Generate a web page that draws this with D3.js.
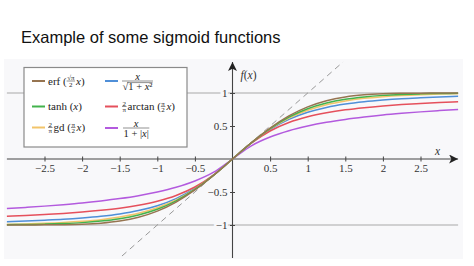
<!DOCTYPE html>
<html><head><meta charset="utf-8">
<script src="https://cdn.jsdelivr.net/npm/d3@7"></script>
<style>body{margin:0;background:#fff}svg{display:block}</style>
</head><body>
<script>
// ---- data ----
const xs = [-3,-2.75,-2.5,-2.25,-2,-1.75,-1.5,-1.25,-1,-0.75,-0.5,-0.25,0,0.25,0.5,0.75,1,1.25,1.5,1.75,2,2.25,2.5,2.75,3];
const erfVals  = [-1.000,-0.999,-0.998,-0.995,-0.988,-0.972,-0.940,-0.883,-0.790,-0.653,-0.469,-0.246,0,0.246,0.469,0.653,0.790,0.883,0.940,0.972,0.988,0.995,0.998,0.999,1.000];
const tanhVals = [-0.995,-0.992,-0.987,-0.978,-0.964,-0.941,-0.905,-0.848,-0.762,-0.635,-0.462,-0.245,0,0.245,0.462,0.635,0.762,0.848,0.905,0.941,0.964,0.978,0.987,0.992,0.995];
const gdVals   = [-0.989,-0.983,-0.975,-0.963,-0.945,-0.919,-0.880,-0.823,-0.739,-0.620,-0.456,-0.244,0,0.244,0.456,0.620,0.739,0.823,0.880,0.919,0.945,0.963,0.975,0.983,0.989];
const algVals  = [-0.949,-0.940,-0.928,-0.914,-0.894,-0.868,-0.832,-0.781,-0.707,-0.600,-0.447,-0.243,0,0.243,0.447,0.600,0.707,0.781,0.832,0.868,0.894,0.914,0.928,0.940,0.949];
const atanVals = [-0.867,-0.855,-0.841,-0.825,-0.804,-0.778,-0.745,-0.700,-0.639,-0.552,-0.424,-0.239,0,0.239,0.424,0.552,0.639,0.700,0.745,0.778,0.804,0.825,0.841,0.855,0.867];
const absVals  = [-0.750,-0.733,-0.714,-0.692,-0.667,-0.636,-0.600,-0.556,-0.500,-0.429,-0.333,-0.200,0,0.200,0.333,0.429,0.500,0.556,0.600,0.636,0.667,0.692,0.714,0.733,0.750];
const diagX = [-1.47, 1.47];
const xTicks = [-2.5,-2,-1.5,-1,-0.5,0.5,1,1.5,2,2.5];
const yTicks = [-1,-0.5,0.5,1];
const refLines = [-1, 1];
const title = "Example of some sigmoid functions";

const seriesList = [
  {name:"alg",  vals: algVals,  color:"#4f8fd8"},
  {name:"atan", vals: atanVals, color:"#e5505c"},
  {name:"abs",  vals: absVals,  color:"#b35ade"},
  {name:"gd",   vals: gdVals,   color:"#f2c46a"},
  {name:"tanh", vals: tanhVals, color:"#43b34c"},
  {name:"erf",  vals: erfVals,  color:"#967450"}
];
const colorOf = Object.fromEntries(seriesList.map(s => [s.name, s.color]));

// ---- layout ----
const W = 474, H = 266;
const svg = d3.select("body").append("svg").attr("width", W).attr("height", H);
const x = d3.scaleLinear().domain([-3, 3]).range([6.9, 458.1]);
const y = d3.scaleLinear().domain([-1.5, 1.5]).range([258, 60]);
const bg = "#f8f8fa";
const serif = "'Liberation Serif','DejaVu Serif',serif";

svg.append("rect").attr("x", 4).attr("y", 59).attr("width", 459).attr("height", 200).attr("fill", bg);

svg.append("text").attr("x", 21).attr("y", 43)
  .attr("font-family", "'Liberation Sans',Arial,sans-serif").attr("font-size", 16.5)
  .attr("fill", "#111").text(title);

// reference lines y = ±1
svg.selectAll("line.ref").data(refLines).join("line").attr("class", "ref")
  .attr("x1", x(-3)).attr("x2", x(3)).attr("y1", d => y(d)).attr("y2", d => y(d))
  .attr("stroke", "#a8a8a8").attr("stroke-width", 1);

// dashed diagonal y = x
svg.append("line")
  .attr("x1", x(diagX[0])).attr("y1", y(diagX[0]))
  .attr("x2", x(diagX[1])).attr("y2", y(diagX[1]))
  .attr("stroke", "#999").attr("stroke-width", 1).attr("stroke-dasharray", "6,4.5");

// arrow marker
const defs = svg.append("defs");
defs.append("marker").attr("id", "arr").attr("viewBox", "0 0 10 10")
  .attr("refX", 10).attr("refY", 5).attr("markerWidth", 9).attr("markerHeight", 9)
  .attr("markerUnits", "userSpaceOnUse").attr("orient", "auto")
  .append("path").attr("d", "M0,0 L10,5 L0,10 L2.5,5 Z").attr("fill", "#222");

// axes lines
svg.append("line").attr("x1", x(-3)).attr("x2", x(3)).attr("y1", y(0)).attr("y2", y(0))
  .attr("stroke", "#444").attr("stroke-width", 1.1).attr("marker-end", "url(#arr)");
svg.append("line").attr("x1", x(0)).attr("x2", x(0)).attr("y1", y(-1.5)).attr("y2", y(1.47))
  .attr("stroke", "#444").attr("stroke-width", 1.1).attr("marker-end", "url(#arr)");

const fmt = d3.format("");
// x axis ticks/labels
const xa = svg.append("g").attr("transform", `translate(0,${y(0)})`)
  .call(d3.axisBottom(x).tickValues(xTicks).tickFormat(fmt).tickSizeInner(2.5).tickSizeOuter(0));
xa.select(".domain").remove();
xa.selectAll(".tick line").attr("y1", -2.5).attr("y2", 2.5).attr("stroke", "#444");
xa.selectAll(".tick text").attr("y", 9).attr("dy", "0.35em")
  .attr("font-family", serif).attr("font-size", 11).attr("fill", "#333");

// y axis ticks/labels
const ya = svg.append("g").attr("transform", `translate(${x(0)},0)`)
  .call(d3.axisLeft(y).tickValues(yTicks).tickFormat(fmt).tickSizeInner(2.5).tickSizeOuter(0));
ya.select(".domain").remove();
ya.selectAll(".tick line").attr("x1", -2.5).attr("x2", 2.5).attr("stroke", "#444");
ya.selectAll(".tick text").attr("x", -5).attr("dy", "0.35em")
  .attr("font-family", serif).attr("font-size", 11).attr("fill", "#333")
  .attr("stroke", bg).attr("stroke-width", 5).attr("paint-order", "stroke");

// axis names
svg.append("text").attr("x", x(0) + 8).attr("y", 79).attr("font-family", serif)
  .attr("font-size", 11.5).attr("fill", "#333")
  .html('<tspan font-style="italic">f</tspan>(<tspan font-style="italic">x</tspan>)');
svg.append("text").attr("x", 435).attr("y", 155).attr("font-family", serif)
  .attr("font-size", 11.5).attr("font-style", "italic").attr("fill", "#333").text("x");

// curves
const line = d3.line().x((d, i) => x(xs[i])).y(d => y(d)).curve(d3.curveMonotoneX);
svg.selectAll("path.s").data(seriesList).join("path").attr("class", "s")
  .attr("d", d => line(d.vals)).attr("fill", "none")
  .attr("stroke", d => d.color).attr("stroke-width", 1.5);

// legend
const lg = svg.append("g");
lg.append("rect").attr("x", 24).attr("y", 67.5).attr("width", 163).attr("height", 79.5)
  .attr("fill", "#fff").attr("stroke", "#8a8a8a").attr("stroke-width", 1.2);

function mathRow(x0, yb, parts) {
  let cx = x0;
  for (const p of parts) {
    if (p.frac) {
      const fs = p.size || 7;
      const gap = p.gap || 0;
      const nt = lg.append("text").attr("font-family", serif).attr("font-size", fs).attr("fill", "#222")
        .attr("text-anchor", "middle").html(p.frac[0]);
      const dt = lg.append("text").attr("font-family", serif).attr("font-size", fs).attr("fill", "#222")
        .attr("text-anchor", "middle").html(p.frac[1]);
      const w = Math.max(nt.node().getComputedTextLength(), dt.node().getComputedTextLength()) + 1;
      const mid = cx + w / 2;
      const barY = yb - (p.bar || 3.5);
      nt.attr("x", mid).attr("y", barY - 1 - gap);
      dt.attr("x", mid).attr("y", barY + fs * 0.72 + 0.8 + gap);
      lg.append("line").attr("x1", cx).attr("x2", cx + w).attr("y1", barY).attr("y2", barY)
        .attr("stroke", "#222").attr("stroke-width", 0.5);
      if (p.sqrt) {
        const dw = dt.node().getComputedTextLength();
        const sx = mid - dw / 2 + p.sqrt * dw;
        lg.append("line").attr("x1", sx).attr("x2", mid + dw / 2).attr("y1", barY + 1.6).attr("y2", barY + 1.6)
          .attr("stroke", "#222").attr("stroke-width", 0.5);
      }
      cx += w + (p.pad || 1);
    } else {
      const t = lg.append("text").attr("x", cx).attr("y", yb).attr("font-family", serif)
        .attr("font-size", p.size || 11).attr("fill", "#222").html(p.t);
      cx += t.node().getComputedTextLength();
    }
  }
}
function marker(xm, ym, name) {
  lg.append("line").attr("x1", xm).attr("x2", xm + 13).attr("y1", ym).attr("y2", ym)
    .attr("stroke", colorOf[name]).attr("stroke-width", 2);
}
const I = s => `<tspan font-style="italic">${s}</tspan>`;
// column 1
marker(32, 81, "erf");
mathRow(48, 84.5, [{t: "erf ("}, {frac: ["√π", "2"], size: 7}, {t: " " + I("x") + ")"}]);
marker(32, 106.5, "tanh");
mathRow(48, 110, [{t: "tanh (" + I("x") + ")"}]);
marker(32, 127.5, "gd");
mathRow(48, 131, [{frac: ["2", "π"], size: 7}, {t: "gd ("}, {frac: ["π", "2"], size: 7}, {t: " " + I("x") + ")"}]);
// column 2
marker(105, 81, "alg");
mathRow(122, 84.5, [{frac: [I("x"), "√1 + " + I("x") + "²"], size: 10.5, bar: 3.5, gap: 0.5, sqrt: 0.16}]);
marker(105, 106.5, "atan");
mathRow(122, 110, [{frac: ["2", "π"], size: 7}, {t: "arctan ("}, {frac: ["π", "2"], size: 7}, {t: I("x") + ")"}]);
marker(105, 128, "abs");
mathRow(123, 131.5, [{frac: [I("x"), "1 + |" + I("x") + "|"], size: 10.5, bar: 3.5, gap: 0.5}]);
</script>
</body></html>
